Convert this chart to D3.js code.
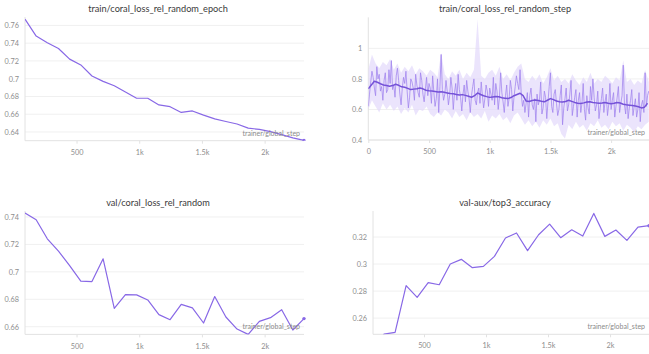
<!DOCTYPE html>
<html>
<head>
<meta charset="utf-8">
<script src="https://cdn.jsdelivr.net/npm/d3@7"></script>
<style>
  html, body { margin: 0; padding: 0; background: #ffffff; }
  svg { display: block; font-family: Lato, "Open Sans", sans-serif; }
</style>
</head>
<body>
<svg id="chart" width="649" height="354"></svg>
<script>
// ---- data -------------------------------------------------------------
// epoch-level logging (one value per epoch, logged at these global steps)
const epochSteps = [89, 178, 267, 356, 445, 534, 623, 712, 801, 890, 979, 1068, 1157,
                    1246, 1335, 1424, 1513, 1602, 1691, 1780, 1869, 1958, 2047, 2136, 2225, 2314];

const trainEpochLoss = [0.767, 0.748, 0.7405, 0.734, 0.722, 0.7155, 0.703, 0.697, 0.692,
                        0.685, 0.678, 0.678, 0.6705, 0.6685, 0.662, 0.6637, 0.659, 0.6548,
                        0.6518, 0.649, 0.6443, 0.643, 0.6405, 0.637, 0.6333, 0.6305];

const valLoss = [0.7429, 0.738, 0.7241, 0.7151, 0.7046, 0.6932, 0.6929, 0.7095, 0.6734,
                 0.6834, 0.6832, 0.6795, 0.6688, 0.6651, 0.6763, 0.6737, 0.6627, 0.682,
                 0.6671, 0.6583, 0.6544, 0.6639, 0.6666, 0.6724, 0.6576, 0.6659];

const valTop3 = [0.236, 0.2481, 0.2494, 0.284, 0.2753, 0.2862, 0.2847, 0.300, 0.3035,
                 0.2973, 0.2983, 0.3057, 0.3193, 0.323, 0.3099, 0.3217, 0.3296, 0.3195,
                 0.3254, 0.3207, 0.3375, 0.3205, 0.3252, 0.3175, 0.3274, 0.3284];

// step-level training loss, sampled every 10 global steps from step 0
const stepRawStart = 0, stepRawEvery = 10;
const stepRaw = [
  0.62, 0.70, 0.78, 0.85, 0.81, 0.74, 0.69, 0.88, 0.80, 0.83, 0.72, 0.75, 0.66, 0.79, 0.84, 0.71, 0.73, 0.86, 0.77, 0.92,
  0.73, 0.76, 0.68, 0.82, 0.87, 0.79, 0.70, 0.63, 0.74, 0.81, 0.77, 0.85, 0.72, 0.61, 0.68, 0.80, 0.78, 0.74, 0.66, 0.83,
  0.76, 0.71, 0.68, 0.84, 0.79, 0.70, 0.65, 0.73, 0.81, 0.69, 0.77, 0.74, 0.64, 0.82, 0.71, 0.62, 0.67, 0.80, 0.58, 0.75,
  0.96, 0.73, 0.66, 0.70, 0.79, 0.72, 0.63, 0.69, 0.81, 0.74, 0.60, 0.71, 0.77, 0.66, 0.83, 0.73, 0.68, 0.59, 0.70, 0.76,
  0.65, 0.79, 0.72, 0.67, 0.58, 0.69, 0.75, 0.80, 0.66, 0.63, 0.71, 0.74, 0.64, 0.78, 0.69, 0.61, 0.67, 0.76, 0.72, 0.62,
  0.74, 0.70, 0.66, 0.81, 0.63, 0.77, 0.72, 0.60, 0.68, 0.84, 0.71, 0.65, 0.58, 0.69, 0.76, 0.62, 0.67, 0.79, 0.73, 0.59,
  0.68, 0.75, 0.82, 0.77, 0.73, 0.86, 0.70, 0.62, 0.66, 0.58, 0.64, 0.71, 0.55, 0.69, 0.74, 0.63, 0.60, 0.67, 0.52, 0.70,
  0.63, 0.66, 0.78, 0.57, 0.61, 0.72, 0.68, 0.54, 0.65, 0.75, 0.84, 0.62, 0.58, 0.70, 0.73, 0.64, 0.56, 0.60, 0.69, 0.76,
  0.50, 0.61, 0.67, 0.74, 0.59, 0.63, 0.70, 0.79, 0.56, 0.62, 0.68, 0.73, 0.55, 0.66, 0.71, 0.58, 0.64, 0.77, 0.60, 0.53,
  0.69, 0.61, 0.57, 0.75, 0.66, 0.80, 0.68, 0.59, 0.63, 0.72, 0.54, 0.61, 0.67, 0.74, 0.58, 0.65, 0.70, 0.56, 0.63, 0.77,
  0.60, 0.66, 0.71, 0.55, 0.62, 0.68, 0.75, 0.58, 0.64, 0.69, 0.89, 0.63, 0.57, 0.70, 0.54, 0.61, 0.66, 0.73, 0.56, 0.62,
  0.67, 0.55, 0.60, 0.71, 0.52, 0.63, 0.66, 0.58, 0.84, 0.62, 0.69, 0.72
];

// per-bucket max / min of the step loss, every 30 steps from step 0
const stepBandEvery = 30;
const stepBandHigh = [
  0.86, 0.96, 0.90, 0.87, 0.91, 0.89, 0.93, 0.86, 0.90, 0.84, 0.88, 0.85, 0.89, 0.83, 0.87, 0.85, 0.82, 0.86, 0.84, 0.81,
  0.97, 0.83, 0.80, 0.85, 0.82, 0.86, 0.80, 0.84, 0.81, 0.86, 1.19, 0.82, 0.80, 0.84, 0.86, 0.82, 0.88, 0.80, 0.83, 0.79,
  0.84, 0.88, 0.90, 0.80, 0.78, 0.82, 0.79, 0.83, 0.77, 0.81, 0.87, 0.79, 0.82, 0.78, 0.80, 0.77, 0.83, 0.79, 0.76, 0.81,
  0.78, 0.84, 0.77, 0.80, 0.78, 0.82, 0.80, 0.77, 0.81, 0.79, 0.92, 0.78, 0.80, 0.76, 0.79, 0.77, 0.86, 0.78
];
const stepBandLow = [
  0.60, 0.66, 0.62, 0.58, 0.64, 0.60, 0.63, 0.59, 0.62, 0.57, 0.61, 0.58, 0.63, 0.56, 0.60, 0.59, 0.62, 0.57, 0.55, 0.58,
  0.56, 0.60, 0.58, 0.54, 0.59, 0.55, 0.57, 0.53, 0.58, 0.55, 0.57, 0.54, 0.59, 0.52, 0.56, 0.54, 0.57, 0.53, 0.55, 0.51,
  0.56, 0.58, 0.54, 0.50, 0.53, 0.49, 0.52, 0.48, 0.53, 0.50, 0.54, 0.49, 0.51, 0.44, 0.41, 0.50, 0.47, 0.52, 0.48, 0.50,
  0.46, 0.51, 0.49, 0.53, 0.48, 0.50, 0.47, 0.52, 0.49, 0.51, 0.46, 0.50, 0.48, 0.45, 0.49, 0.47, 0.50, 0.52
];

// smoothed step loss, every 25 steps from step 0
const stepSmoothEvery = 25;
const stepSmooth = [
  0.735, 0.760, 0.785, 0.778, 0.768, 0.760, 0.757, 0.752,
  0.756, 0.765, 0.758, 0.748, 0.745, 0.738, 0.730, 0.733,
  0.736, 0.740, 0.735, 0.726, 0.722, 0.720, 0.717, 0.714,
  0.716, 0.712, 0.708, 0.704, 0.702, 0.698, 0.695, 0.697,
  0.692, 0.686, 0.680, 0.690, 0.708, 0.698, 0.690, 0.684,
  0.679, 0.682, 0.685, 0.683, 0.677, 0.674, 0.671, 0.678,
  0.690, 0.698, 0.706, 0.690, 0.655, 0.652, 0.658, 0.662,
  0.659, 0.654, 0.650, 0.660, 0.671, 0.664, 0.655, 0.651,
  0.648, 0.652, 0.660, 0.653, 0.646, 0.641, 0.639, 0.643,
  0.649, 0.650, 0.645, 0.643, 0.640, 0.642, 0.646, 0.641,
  0.637, 0.641, 0.646, 0.642, 0.634, 0.630, 0.628, 0.626,
  0.622, 0.618, 0.610, 0.615, 0.640
];

const xTicksFrom0 = [0, 500, 1000, 1500, 2000];
const xTicks = [500, 1000, 1500, 2000];
const yTicksTrainEpoch = [0.64, 0.66, 0.68, 0.70, 0.72, 0.74, 0.76];
const yTicksTrainStep = [0.4, 0.6, 0.8, 1.0];
const yTicksValLoss = [0.66, 0.68, 0.70, 0.72, 0.74];
const yTicksTop3 = [0.26, 0.28, 0.30, 0.32];

const titles = ["train/coral_loss_rel_random_epoch", "train/coral_loss_rel_random_step",
                "val/coral_loss_rel_random", "val-aux/top3_accuracy"];
const xAxisName = "trainer/global_step";

// ---- styling ------------------------------------------------------------
const LINE = "#8868e6";
const DARK = "#7552d8";
const RAW = "#a084ee";
const BAND = "#e3d8fb";
const GRID = "#f0f0f0";
const AXIS = "#e2e2e2";
const TICKTXT = "#8e8e8e";

const svg = d3.select("#chart");
const fmtX = v => v >= 1000 ? (v / 1000) + "k" : String(v);
const fmtY = v => String(+v.toFixed(2));

function panel(cfg, idx) {
  const x = d3.scaleLinear().domain(cfg.xDomain).range([cfg.left, cfg.right]);
  const y = d3.scaleLinear().domain(cfg.yDomain).range([cfg.bottom, cfg.top]);
  const g = svg.append("g");

  // title
  g.append("text")
    .attr("x", cfg.titleX).attr("y", cfg.titleY)
    .attr("text-anchor", "middle").attr("dominant-baseline", "central")
    .attr("font-size", 9.2).attr("fill", "#3b3b3b")
    .text(cfg.title);

  // horizontal grid
  g.selectAll(".grid").data(cfg.yTicks).join("line")
    .attr("x1", cfg.left).attr("x2", cfg.right)
    .attr("y1", d => y(d)).attr("y2", d => y(d))
    .attr("stroke", GRID).attr("stroke-width", 1);

  // axes
  const yAxis = d3.axisLeft(y).tickValues(cfg.yTicks).tickFormat(fmtY).tickSize(0).tickPadding(6);
  const xAxis = d3.axisBottom(x).tickValues(cfg.xTicks).tickFormat(fmtX).tickSize(3).tickPadding(6);
  const ya = g.append("g").attr("transform", `translate(${cfg.left},0)`).call(yAxis);
  const xa = g.append("g").attr("transform", `translate(0,${cfg.bottom})`).call(xAxis);
  ya.select(".domain").remove();
  xa.select(".domain").remove();
  [ya, xa].forEach(a => {
    a.selectAll("text").attr("fill", TICKTXT).attr("font-size", 7.3)
      .attr("font-family", "Lato, 'Open Sans', sans-serif");
    a.selectAll("line").attr("stroke", AXIS);
  });
  g.append("line").attr("x1", cfg.left).attr("x2", cfg.left)
    .attr("y1", cfg.top - 2).attr("y2", cfg.bottom).attr("stroke", AXIS);
  g.append("line").attr("x1", cfg.left).attr("x2", cfg.right)
    .attr("y1", cfg.bottom).attr("y2", cfg.bottom).attr("stroke", AXIS);

  // clip region for marks
  const clipId = "clip" + idx;
  svg.append("clipPath").attr("id", clipId).append("rect")
    .attr("x", cfg.left).attr("y", cfg.top - 2)
    .attr("width", cfg.right - cfg.left + 2).attr("height", cfg.bottom - cfg.top + 2);
  const marks = g.append("g").attr("clip-path", `url(#${clipId})`);
  cfg.draw(marks, x, y);

  // x-axis name inside the plot
  g.append("text")
    .attr("x", cfg.right - 4).attr("y", cfg.bottom - 5)
    .attr("text-anchor", "end").attr("font-size", 7).attr("fill", "#8a8a8a")
    .text(xAxisName);
}

function epochLine(values, withDot) {
  return (m, x, y) => {
    const pts = epochSteps.map((s, i) => [s, values[i]]);
    m.append("path").datum(pts)
      .attr("d", d3.line().x(d => x(d[0])).y(d => y(d[1])))
      .attr("fill", "none").attr("stroke", LINE).attr("stroke-width", 1.2)
      .attr("stroke-linejoin", "round");
    if (withDot) {
      const last = pts[pts.length - 1];
      m.append("circle").attr("cx", x(last[0])).attr("cy", y(last[1]))
        .attr("r", 1.7).attr("fill", LINE);
    }
  };
}

const panels = [
  { title: titles[0], titleX: 158, titleY: 8,
    left: 25, right: 304, top: 19, bottom: 140.7,
    xDomain: [89, 2314], yDomain: [0.6302, 0.7672],
    xTicks: xTicks, yTicks: yTicksTrainEpoch,
    draw: epochLine(trainEpochLoss, true) },
  { title: titles[1], titleX: 505, titleY: 8,
    left: 368.3, right: 649, top: 19.3, bottom: 140,
    xDomain: [0, 2312], yDomain: [0.4, 1.19],
    xTicks: xTicksFrom0, yTicks: yTicksTrainStep,
    draw: (m, x, y) => {
      // min/max envelope of the raw step values
      const band = stepBandHigh.map((h, i) => [i * stepBandEvery, h, stepBandLow[i]]);
      m.append("path").datum(band)
        .attr("d", d3.area().x(d => x(d[0])).y0(d => y(d[2])).y1(d => y(d[1])))
        .attr("fill", BAND).attr("opacity", 0.7);
      // raw step values
      const raw = stepRaw.map((v, i) => [stepRawStart + i * stepRawEvery, v]);
      m.append("path").datum(raw)
        .attr("d", d3.line().x(d => x(d[0])).y(d => y(d[1])))
        .attr("fill", "none").attr("stroke", RAW).attr("stroke-width", 0.9)
        .attr("opacity", 0.85);
      // smoothed curve
      const sm = stepSmooth.map((v, i) => [i * stepSmoothEvery, v]);
      m.append("path").datum(sm)
        .attr("d", d3.line().x(d => x(d[0])).y(d => y(d[1])))
        .attr("fill", "none").attr("stroke", DARK).attr("stroke-width", 1.5)
        .attr("stroke-linejoin", "round");
    } },
  { title: titles[2], titleX: 158, titleY: 202,
    left: 25, right: 304, top: 213, bottom: 334.4,
    xDomain: [89, 2314], yDomain: [0.6544, 0.7429],
    xTicks: xTicks, yTicks: yTicksValLoss,
    draw: epochLine(valLoss, true) },
  { title: titles[3], titleX: 505, titleY: 202,
    left: 373, right: 649, top: 213, bottom: 334.3,
    xDomain: [89, 2314], yDomain: [0.248, 0.3378],
    xTicks: xTicks, yTicks: yTicksTop3,
    draw: epochLine(valTop3, true) }
];

panels.forEach(panel);
</script>
</body>
</html>
